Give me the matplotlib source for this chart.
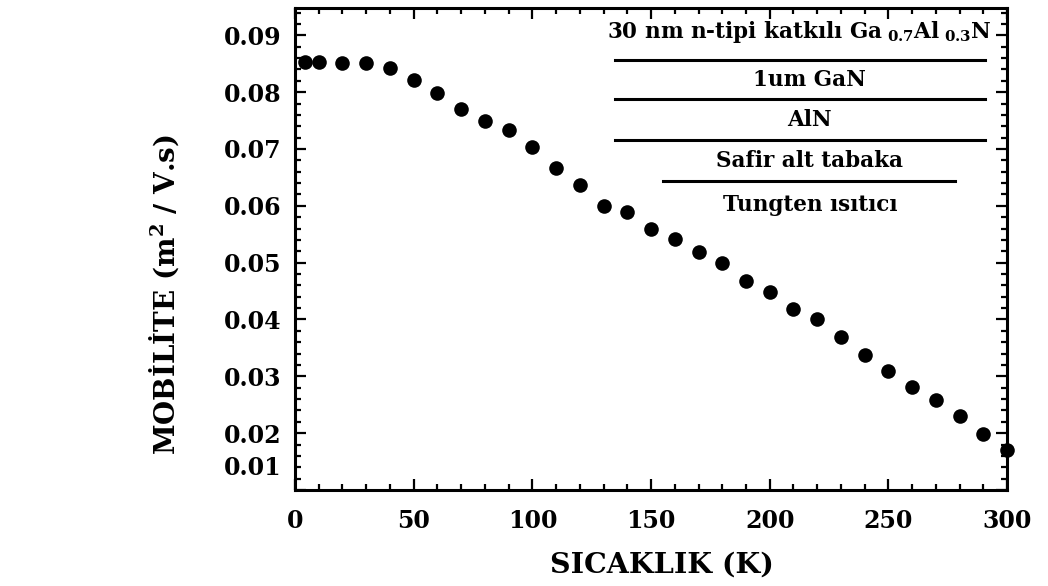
import matplotlib
matplotlib.use("Agg")
import matplotlib.pyplot as plt
from matplotlib.ticker import MultipleLocator
from matplotlib.transforms import ScaledTranslation

# sicaklik (K) ve mobilite (m^2/V.s) degerleri
sicaklik = [4, 10, 20, 30, 40, 50, 60, 70, 80, 90, 100, 110, 120, 130, 140, 150,
            160, 170, 180, 190, 200, 210, 220, 230, 240, 250, 260, 270, 280, 290, 300]
mobilite = [0.0853, 0.0853, 0.0851, 0.0851, 0.0842, 0.0821, 0.0799, 0.0770, 0.0749,
            0.0733, 0.0704, 0.0667, 0.0636, 0.0600, 0.0590, 0.0560, 0.0541, 0.0519,
            0.0499, 0.0467, 0.0449, 0.0419, 0.0400, 0.0369, 0.0338, 0.0310, 0.0281,
            0.0259, 0.0231, 0.0198, 0.0170]

katmanlar = [r"30 nm n-tipi katkılı Ga$_{\ \mathbf{0.7}}$Al$_{\ \mathbf{0.3}}$N",
             "1um GaN", "AlN", "Safir alt tabaka", "Tungten ısıtıcı"]

plt.rcParams['font.family'] = ['DejaVu Serif']
plt.rcParams['font.weight'] = 'bold'
plt.rcParams['mathtext.fontset'] = 'dejavuserif'
plt.rcParams['mathtext.default'] = 'bf'

fig = plt.figure(figsize=(10.48, 5.86), dpi=100)
ax = fig.add_axes([0.2815, 0.1638, 0.6795, 0.8225])

ax.plot(sicaklik, mobilite, 'o', color='black', markersize=10.5, markeredgewidth=0,
        clip_on=False, zorder=5)

ax.set_xlim(0, 300)
ax.set_ylim(0.01, 0.0948)
ax.xaxis.set_major_locator(MultipleLocator(50))
ax.xaxis.set_minor_locator(MultipleLocator(10))
ax.yaxis.set_major_locator(MultipleLocator(0.01))
ax.yaxis.set_minor_locator(MultipleLocator(0.002))
ax.yaxis.set_major_formatter(matplotlib.ticker.FormatStrFormatter('%.2f'))

ax.tick_params(which='both', direction='in', top=True, right=True, width=1.6,
               labelsize=17)
ax.tick_params(which='major', length=8)
ax.tick_params(which='minor', length=4.5)
ax.tick_params(axis='x', pad=14)
ax.tick_params(axis='y', pad=10)
for s in ax.spines.values():
    s.set_linewidth(2.2)

# 0.01 etiketi eksenin biraz ustunde
fig.canvas.draw()
for lab in ax.get_yticklabels():
    if lab.get_text() == '0.01':
        lab.set_transform(lab.get_transform() + ScaledTranslation(0, 18 / 72, fig.dpi_scale_trans))

# katman yapisi
ax.text(0.709, 0.950, katmanlar[0], transform=ax.transAxes, ha='center', va='center', fontsize=15.5)
for yt, t in zip([0.851, 0.768, 0.683, 0.591], katmanlar[1:]):
    ax.text(0.723, yt, t, transform=ax.transAxes, ha='center', va='center', fontsize=15.5)
for yl, x0, x1 in [(0.892, 0.449, 0.969), (0.811, 0.449, 0.969),
                   (0.726, 0.449, 0.969), (0.641, 0.517, 0.927)]:
    ax.plot([x0, x1], [yl, yl], color='black', lw=2.2, transform=ax.transAxes)

fig.text(0.632, 0.036, "SICAKLIK (K)", ha='center', va='center', fontsize=20.5)
fig.text(0.157, 0.497, r"MOBİLİTE (m$^{\mathbf{2}}$ / V.s)", ha='center', va='center',
         rotation=90, fontsize=20)

fig.savefig("out.png", dpi=100)
